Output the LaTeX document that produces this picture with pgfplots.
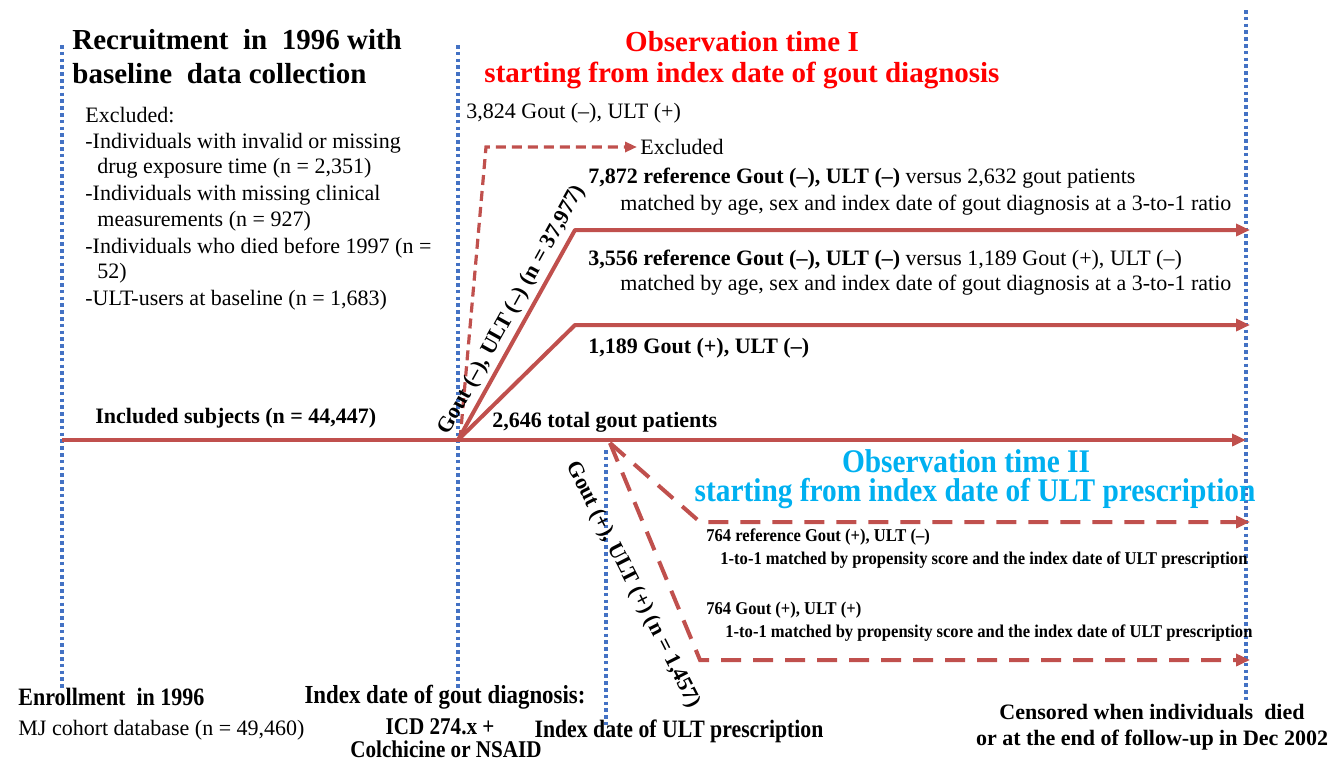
\documentclass[border=0pt]{standalone}
\usepackage{pgfplots}
\pgfplotsset{compat=1.18}
\usepackage{fontspec}
\setmainfont{Liberation Serif}
\usepackage{graphicx}
\usetikzlibrary{arrows.meta}
\definecolor{lred}{HTML}{C0504D}
\definecolor{tred}{HTML}{FF0000}
\definecolor{tblue}{HTML}{00B0F0}
\definecolor{dblue}{HTML}{4472C4}
\newcommand{\fbig}{\fontsize{14.5}{16}\selectfont\bfseries}
\newcommand{\fblue}{\fontsize{16.5}{18}\selectfont\bfseries}
\newcommand{\fbody}{\fontsize{11}{13}\selectfont}
\newcommand{\fsmall}{\fontsize{9}{11}\selectfont}
\newcommand{\fbot}{\fontsize{12.5}{14}\selectfont\bfseries}
\newcommand{\cond}[2][0.88]{\scalebox{#1}[1]{#2}}
\begin{document}
\begin{tikzpicture}
\begin{axis}[width=667.5pt,height=380pt,scale only axis,
  xmin=0,xmax=1335,ymin=0,ymax=760,y dir=reverse,hide axis,clip=false]
\path (rel axis cs:0,0) rectangle (rel axis cs:1,1);
% blue dotted lines
\addplot[dblue,line width=2pt,dash pattern=on 1.8pt off 1.6pt] coordinates {(62,45) (62,690)};
\addplot[dblue,line width=2pt,dash pattern=on 1.8pt off 1.6pt] coordinates {(458,45) (458,690)};
\addplot[dblue,line width=2pt,dash pattern=on 1.8pt off 1.6pt] coordinates {(606,450) (606,725)};
\addplot[dblue,line width=2pt,dash pattern=on 1.8pt off 1.6pt] coordinates {(1246,10) (1246,700)};
% red solid lines
\addplot[lred,line width=2pt] coordinates {(62,440) (458,440)};
\addplot[lred,line width=2pt,-{Triangle[length=7pt,width=6pt]}] coordinates {(458,440) (1246,440)};
\addplot[lred,line width=2pt,-{Triangle[length=7pt,width=6pt]},line join=round] coordinates {(458,440) (575,325) (1250,325)};
\addplot[lred,line width=2pt,-{Triangle[length=7pt,width=6pt]},line join=round] coordinates {(458,440) (575,230) (1250,230)};
% red dashed lines
\addplot[lred,line width=1.6pt,dash pattern=on 5pt off 3pt,-{Triangle[length=6pt,width=5pt]}] coordinates {(460,440) (486,147) (637,147)};
\addplot[lred,line width=2pt,dash pattern=on 10pt off 6pt,-{Triangle[length=7pt,width=6pt]}] coordinates {(610,443) (700,522) (1250,522)};
\addplot[lred,line width=2pt,dash pattern=on 10pt off 6pt,-{Triangle[length=7pt,width=6pt]}] coordinates {(610,443) (700,660) (1250,660)};
% titles
\node[anchor=west,inner sep=0] at (axis cs:72,40) {\fbig Recruitment\ \ in\ \ 1996 with};
\node[anchor=west,inner sep=0] at (axis cs:72,74) {\fbig baseline\ \ data collection};
\node[inner sep=0,text=tred] at (axis cs:742,42) {\fbig Observation time I};
\node[inner sep=0,text=tred] at (axis cs:742,75) {\fbig starting from index date of gout diagnosis};
\node[inner sep=0,text=tblue] at (axis cs:966,461) {\fblue\cond[0.89]{Observation time II}};
\node[inner sep=0,text=tblue] at (axis cs:975,494) {\fblue\cond[0.89]{starting from index date of ULT prescription}};
% exclusions
\node[anchor=west,inner sep=0] at (axis cs:85,115) {\fbody Excluded:};
\node[anchor=west,inner sep=0] at (axis cs:85,143) {\fbody -Individuals with invalid or missing};
\node[anchor=west,inner sep=0] at (axis cs:97,168) {\fbody drug exposure time (n = 2,351)};
\node[anchor=west,inner sep=0] at (axis cs:85,195) {\fbody -Individuals with missing clinical};
\node[anchor=west,inner sep=0] at (axis cs:97,221) {\fbody measurements (n = 927)};
\node[anchor=west,inner sep=0] at (axis cs:85,248) {\fbody -Individuals who died before 1997 (n =};
\node[anchor=west,inner sep=0] at (axis cs:97,273) {\fbody 52)};
\node[anchor=west,inner sep=0] at (axis cs:85,300) {\fbody -ULT-users at baseline (n = 1,683)};
% branch texts
\node[anchor=west,inner sep=0] at (axis cs:466,113) {\fbody 3,824 Gout (--), ULT (+)};
\node[anchor=west,inner sep=0] at (axis cs:640,147) {\fbody Excluded};
\node[anchor=west,inner sep=0] at (axis cs:588,178) {\fbody\textbf{7,872 reference Gout (--), ULT (--)} versus 2,632 gout patients};
\node[anchor=west,inner sep=0] at (axis cs:620,205) {\fbody matched by age, sex and index date of gout diagnosis at a 3-to-1 ratio};
\node[anchor=west,inner sep=0] at (axis cs:588,260) {\fbody\textbf{3,556 reference Gout (--), ULT (--)} versus 1,189 Gout (+), ULT (--)};
\node[anchor=west,inner sep=0] at (axis cs:620,285) {\fbody matched by age, sex and index date of gout diagnosis at a 3-to-1 ratio};
\node[anchor=west,inner sep=0] at (axis cs:588,348) {\fbody\bfseries 1,189 Gout (+), ULT (--)};
\node[anchor=west,inner sep=0] at (axis cs:492,422) {\fbody\bfseries 2,646 total gout patients};
\node[anchor=west,inner sep=0] at (axis cs:95,418) {\fbody\bfseries Included subjects (n = 44,447)};
\node[inner sep=0,rotate=61] at (axis cs:512,310) {\fbody\bfseries Gout (--), ULT (--) (n = 37,977)};
\node[inner sep=0,rotate=-63] at (axis cs:633,585) {\fbody\bfseries Gout (+), ULT (+) (n = 1,457)};
% observation II texts
\node[anchor=west,inner sep=0] at (axis cs:706,537) {\fsmall\bfseries\cond[0.92]{764 reference Gout (+), ULT (--)}};
\node[anchor=west,inner sep=0] at (axis cs:720,560) {\fsmall\bfseries\cond[0.92]{1-to-1 matched by propensity score and the index date of ULT prescription}};
\node[anchor=west,inner sep=0] at (axis cs:706,610) {\fsmall\bfseries\cond[0.92]{764 Gout (+), ULT (+)}};
\node[anchor=west,inner sep=0] at (axis cs:725,633) {\fsmall\bfseries\cond[0.92]{1-to-1 matched by propensity score and the index date of ULT prescription}};
% bottom
\node[anchor=west,inner sep=0] at (axis cs:18,697) {\fbot\cond{Enrollment\ \ in 1996}};
\node[anchor=west,inner sep=0] at (axis cs:18,730) {\fbody MJ cohort database (n = 49,460)};
\node[inner sep=0] at (axis cs:445,697) {\fontsize{13}{15}\selectfont\bfseries\cond{Index date of gout diagnosis:}};
\node[inner sep=0] at (axis cs:440,727) {\fontsize{12}{14}\selectfont\bfseries\cond{ICD 274.x +}};
\node[inner sep=0] at (axis cs:446,749) {\fontsize{12}{14}\selectfont\bfseries\cond{Colchicine or NSAID}};
\node[inner sep=0] at (axis cs:679,731) {\fbot\cond[0.87]{Index date of ULT prescription}};
\node[inner sep=0] at (axis cs:1152,712) {\fontsize{11}{13}\selectfont\bfseries Censored\ when\ individuals\ \ died};
\node[inner sep=0] at (axis cs:1152,740) {\fontsize{11}{13}\selectfont\bfseries or at the end of follow-up in Dec 2002};
\end{axis}
\end{tikzpicture}
\end{document}
